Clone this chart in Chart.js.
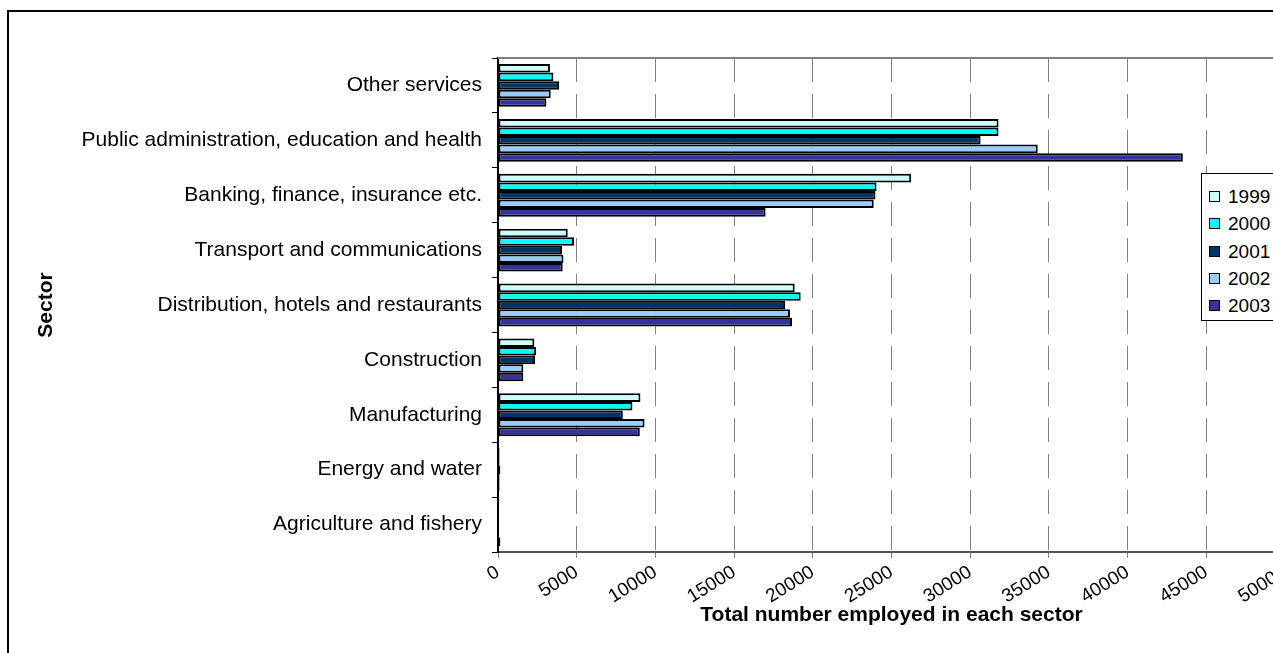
<!DOCTYPE html>
<html>
<head>
<meta charset="utf-8">
<script src="https://cdn.jsdelivr.net/npm/chart.js@4.4.0/dist/chart.umd.min.js"></script>
<style>
  html, body { margin: 0; padding: 0; background: #fff; overflow: hidden; }
  #frame { position: absolute; left: 7px; top: 10px; width: 1300px; height: 660px; border: 2px solid #000; }
  #chart { display: block; }
  #legend {
    position: absolute; left: 1201px; top: 173px; width: 110px; height: 146px;
    border: 1px solid #000; background: #fff;
    font-family: "Liberation Sans", Arial, sans-serif; font-size: 19px; color: #000;
  }
  #legend .row { position: absolute; left: 0; height: 24px; line-height: 24px; white-space: nowrap; }
  #legend .box { position: absolute; left: 7px; top: 6px; width: 9px; height: 9px; border: 1.5px solid #000; }
  #legend .lbl { position: absolute; left: 26px; top: 0; }
</style>
</head>
<body>
<div id="frame"><canvas id="chart" width="1300" height="660"></canvas></div>
<div id="legend"></div>
<script>
// categories, listed top to bottom as in the picture
const categories = [
  "Other services",
  "Public administration, education and health",
  "Banking, finance, insurance etc.",
  "Transport and communications",
  "Distribution, hotels and restaurants",
  "Construction",
  "Manufacturing",
  "Energy and water",
  "Agriculture and fishery"
];

const years = ["1999", "2000", "2001", "2002", "2003"];
const colors = ["#CCFFFF", "#00FFFF", "#003366", "#99CCFF", "#333399"];

// employed per sector, one array per year
const v1999 = [3300, 31800, 26250, 4430, 18850, 2310, 9050, 100, 50];
const v2000 = [3520, 31800, 24050, 4830, 19230, 2420, 8540, 100, 50];
const v2001 = [3880, 30660, 23980, 4070, 18240, 2350, 7930, 150, 50];
const v2002 = [3350, 34290, 23870, 4160, 18550, 1610, 9310, 100, 50];
const v2003 = [3075, 43510, 17000, 4110, 18680, 1610, 9010, 100, 150];
const seriesValues = [v1999, v2000, v2001, v2002, v2003];

const xMin = 0;
const xMax = 50000;
const xStep = 5000;

const FONT = "'Liberation Sans', Arial, sans-serif";

// grey line along the top of the plot area
const plotTopLine = {
  id: "plotTopLine",
  beforeDatasetsDraw(chart) {
    const { ctx, chartArea } = chart;
    ctx.save();
    ctx.strokeStyle = "#808080";
    ctx.lineWidth = 2;
    ctx.beginPath();
    ctx.moveTo(chartArea.left, chartArea.top);
    ctx.lineTo(chartArea.right + 20, chartArea.top);
    ctx.stroke();
    ctx.restore();
  }
};

const chart = new Chart(document.getElementById("chart"), {
  type: "bar",
  data: {
    labels: categories,
    datasets: years.map((y, i) => ({
      label: y,
      data: seriesValues[i],
      backgroundColor: colors[i],
      borderColor: "#000",
      borderWidth: 2,
      borderSkipped: false,
      categoryPercentage: 0.78,
      barPercentage: 1.0
    }))
  },
  options: {
    indexAxis: "y",
    responsive: false,
    animation: false,
    devicePixelRatio: 1,
    layout: { padding: { left: 0, top: 46, right: 24, bottom: 0 } },
    plugins: {
      legend: { display: false },
      tooltip: { enabled: false }
    },
    scales: {
      x: {
        type: "linear",
        position: "bottom",
        min: xMin,
        max: xMax,
        afterFit: (s) => { s.height = 120; },
        ticks: {
          stepSize: xStep,
          autoSkip: false,
          minRotation: 32,
          maxRotation: 32,
          padding: 3,
          color: "#000",
          font: { family: FONT, size: 19 },
          callback: (v) => String(v)
        },
        grid: { color: "#808080", lineWidth: 1, tickLength: 6, tickColor: "#808080" },
        border: { color: "#555", width: 2, dash: [24, 12] },
        title: {
          display: true,
          text: "Total number employed in each sector",
          color: "#000",
          font: { family: FONT, size: 21, weight: "bold" },
          padding: { top: 44, bottom: 44 }
        }
      },
      y: {
        afterFit: (s) => { s.width = 489; },
        ticks: { color: "#000", padding: 10, font: { family: FONT, size: 21 } },
        grid: { offset: true, drawOnChartArea: false, tickLength: 6, tickColor: "#000", color: "#000" },
        border: { color: "#000", width: 2 },
        title: {
          display: true,
          text: "Sector",
          color: "#000",
          font: { family: FONT, size: 21, weight: "bold" },
          padding: { top: 25, bottom: 25 }
        }
      }
    }
  },
  plugins: [plotTopLine]
});

// legend box
const legend = document.getElementById("legend");
years.forEach((y, i) => {
  const row = document.createElement("div");
  row.className = "row";
  row.style.top = (11 + i * 27.3) + "px";
  row.innerHTML = '<span class="box" style="background:' + colors[i] + '"></span><span class="lbl">' + y + '</span>';
  legend.appendChild(row);
});
</script>
</body>
</html>
